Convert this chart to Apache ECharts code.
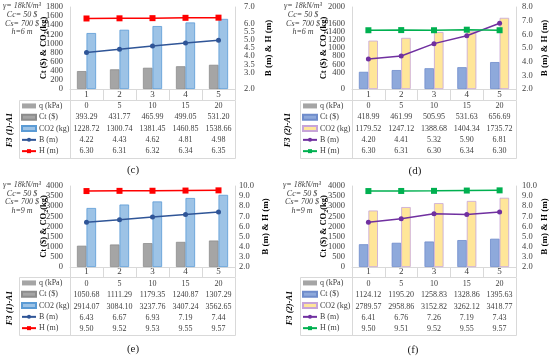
<!DOCTYPE html>
<html><head><meta charset="utf-8">
<script src="https://cdn.jsdelivr.net/npm/echarts@6/dist/echarts.min.js"></script>
<style>html,body{margin:0;padding:0;background:#fff}#c{width:550px;height:359px}</style>
</head><body><div id="c"></div>
<script>
// ---- data ----
const categories = ['1', '2', '3', '4', '5'];
const qValues = [0, 5, 10, 15, 20];

const ctC  = [393.29, 431.77, 465.99, 499.05, 531.20];
const co2C = [1228.72, 1300.74, 1381.45, 1460.85, 1538.66];
const bC   = [4.22, 4.43, 4.62, 4.81, 4.98];
const hC   = [6.30, 6.31, 6.32, 6.34, 6.35];

const ctD  = [418.99, 461.99, 505.95, 531.63, 656.69];
const co2D = [1179.52, 1247.12, 1388.68, 1404.34, 1735.72];
const bD   = [4.20, 4.41, 5.32, 5.90, 6.81];
const hD   = [6.30, 6.31, 6.30, 6.34, 6.30];

const ctE  = [1050.68, 1111.29, 1179.35, 1240.87, 1307.29];
const co2E = [2914.07, 3084.10, 3237.76, 3407.24, 3562.65];
const bE   = [6.43, 6.67, 6.93, 7.19, 7.44];
const hE   = [9.50, 9.52, 9.53, 9.55, 9.57];

const ctF  = [1124.12, 1195.20, 1258.83, 1328.86, 1395.63];
const co2F = [2789.57, 2958.86, 3152.82, 3262.12, 3418.77];
const bF   = [6.41, 6.76, 7.26, 7.19, 7.43];
const hF   = [9.50, 9.51, 9.52, 9.55, 9.57];

const seriesNames = ['q (kPa)', 'Ct ($)', 'CO2 (kg)', 'B (m)', 'H (m)'];
const notesH6 = ['γ= 18kN/m³', 'Cc= 50 $', 'Cs= 700 $', 'h=6 m'];
const notesH9 = ['γ= 18kN/m³', 'Cc= 50 $', 'Cs= 700 $', 'h=9 m'];

// ---- styles ----
const FONT = "'Liberation Serif', 'Times New Roman', serif";
const GRID_LINE = '#d9d9d9';
const themes = {
  blue:   { q: '#A5A5A5', ct: '#A5A5A5', ctB: '#8C8C8C', co2: '#9DC3E6', co2B: '#5B9BD5', b: '#2F5597', h: '#FF0000' },
  yellow: { q: '#A5A5A5', ct: '#8EA9DB', ctB: '#6F8CCB', co2: '#FFE699', co2B: '#C7A4D8', b: '#7030A0', h: '#00B050' }
};

const panels = [
  { key: 'c', ct: ctC, co2: co2C, b: bC, h: hC, theme: 'blue', notes: notesH6,
    lMax: 1800, lInt: 200, rMax: 7, rInt: 0.5,
    gl: 70, gw: 165, gt: 7, gh: 82, tl: 19, tt: 100, tb: 158, labMargin: 0, firstLH: 11.3,
    rLabMargin: 9, rNameGap: 29, lNameGap: 21,
    tag: 'F3 (1)-A1', tagX: 10, tagY: 130, cap: '(c)', capX: 133, capY: 170, noteX: 22, noteY: 1.7 },
  { key: 'd', ct: ctD, co2: co2D, b: bD, h: hD, theme: 'yellow', notes: notesH6,
    lMax: 2000, lInt: 200, rMax: 8, rInt: 1,
    gl: 352, gw: 164, gt: 7, gh: 82, tl: 300, tt: 100, tb: 158, labMargin: 0, firstLH: 11.3,
    rLabMargin: 6, rNameGap: 24, lNameGap: 23,
    tag: 'F3 (2)-A1', tagX: 288, tagY: 130, cap: '(d)', capX: 415, capY: 171, noteX: 303, noteY: 1.7 },
  { key: 'e', ct: ctE, co2: co2E, b: bE, h: hE, theme: 'blue', notes: notesH9,
    lMax: 4000, lInt: 500, rMax: 10, rInt: 1,
    gl: 70, gw: 165, gt: 186, gh: 81, tl: 19, tt: 277, tb: 335, labMargin: -3, firstLH: 14.3,
    rLabMargin: 4, rNameGap: 26, lNameGap: 21,
    tag: 'F3 (1)-A1', tagX: 10, tagY: 308, cap: '(e)', capX: 133, capY: 349, noteX: 22, noteY: 180.6 },
  { key: 'f', ct: ctF, co2: co2F, b: bF, h: hF, theme: 'yellow', notes: notesH9,
    lMax: 4000, lInt: 500, rMax: 10, rInt: 1,
    gl: 352, gw: 164, gt: 186, gh: 81, tl: 300, tt: 277, tb: 335, labMargin: -3, firstLH: 14.3,
    rLabMargin: 6, rNameGap: 24, lNameGap: 23,
    tag: 'F3 (2)-A1', tagX: 290, tagY: 308, cap: '(f)', capX: 413, capY: 350, noteX: 302, noteY: 180.6 }
];

const option = { animation: false, backgroundColor: '#fff', grid: [], xAxis: [], yAxis: [], series: [], legend: [], graphic: [] };

panels.forEach((p, i) => {
  const t = themes[p.theme];
  const nm = s => s + '|' + p.key;
  option.grid.push({ left: p.gl, top: p.gt, width: p.gw, height: p.gh });

  const rows = (idx) => [qValues[idx], p.ct[idx].toFixed(2), p.co2[idx].toFixed(2), p.b[idx].toFixed(2), p.h[idx].toFixed(2)];
  option.xAxis.push({
    type: 'category', gridIndex: i, data: categories,
    axisLine: { lineStyle: { color: GRID_LINE } },
    axisTick: { show: true, length: p.tt - (p.gt + p.gh), lineStyle: { color: GRID_LINE } },
    axisLabel: {
      interval: 0, margin: p.labMargin, fontFamily: FONT, hideOverlap: false,
      formatter: (v, idx) => '{n|' + v + '}\n' + rows(idx).map(r => '{v|' + r + '}').join('\n'),
      rich: {
        n: { fontFamily: FONT, fontSize: 9, lineHeight: p.firstLH, color: '#404040' },
        v: { fontFamily: FONT, fontSize: 8, lineHeight: 11.3, color: '#404040' }
      }
    }
  });
  option.xAxis.push({ type: 'category', gridIndex: i, data: categories, show: false });

  option.yAxis.push({
    type: 'value', gridIndex: i, min: 0, max: p.lMax, interval: p.lInt,
    axisLine: { show: true, lineStyle: { color: GRID_LINE } }, axisTick: { show: false }, splitLine: { show: false },
    axisLabel: { fontFamily: FONT, fontSize: 8.5, color: '#404040', margin: 7, showMinLabel: true, showMaxLabel: true,
      hideOverlap: false, formatter: v => String(v) },
    name: 'Ct ($) & CO{s|2}(kg)', nameLocation: 'middle', nameGap: p.lNameGap, nameRotate: 90, nameMoveOverlap: false,
    nameTextStyle: { fontFamily: FONT, fontSize: 8.5, fontWeight: 'bold', color: '#000',
      rich: { s: { fontFamily: FONT, fontSize: 6, fontWeight: 'bold', verticalAlign: 'bottom', padding: [4, 0, 0, 0] } } }
  });
  option.yAxis.push({
    type: 'value', gridIndex: i, position: 'right', min: 2, max: p.rMax, interval: p.rInt,
    axisLine: { show: true, lineStyle: { color: GRID_LINE } }, axisTick: { show: false }, splitLine: { show: false },
    axisLabel: { fontFamily: FONT, fontSize: 8.5, color: '#404040', margin: p.rLabMargin, showMinLabel: true, showMaxLabel: true,
      hideOverlap: false, formatter: v => v.toFixed(1) },
    name: 'B (m) & H (m)', nameLocation: 'middle', nameGap: p.rNameGap, nameRotate: 90, nameMoveOverlap: false,
    nameTextStyle: { fontFamily: FONT, fontSize: 9, fontWeight: 'bold', color: '#000' }
  });

  const xMain = 2 * i, xHid = 2 * i + 1, yL = 2 * i, yR = 2 * i + 1;
  option.series.push(
    { type: 'bar', name: nm(seriesNames[0]), xAxisIndex: xHid, yAxisIndex: yL, data: qValues, barWidth: '12%', z: 1,
      itemStyle: { color: t.q } },
    { type: 'bar', name: nm(seriesNames[1]), xAxisIndex: xMain, yAxisIndex: yL, data: p.ct, barWidth: '29%', barGap: '0%',
      itemStyle: { color: t.ct, borderColor: t.ctB, borderWidth: 0.8 } },
    { type: 'bar', name: nm(seriesNames[2]), xAxisIndex: xMain, yAxisIndex: yL, data: p.co2, barWidth: '29%', barGap: '0%',
      itemStyle: { color: t.co2, borderColor: t.co2B, borderWidth: 0.8 } },
    { type: 'line', name: nm(seriesNames[3]), xAxisIndex: xMain, yAxisIndex: yR, data: p.b,
      symbol: 'circle', symbolSize: 5, lineStyle: { color: t.b, width: 1.5 }, itemStyle: { color: t.b } },
    { type: 'line', name: nm(seriesNames[4]), xAxisIndex: xMain, yAxisIndex: yR, data: p.h,
      symbol: 'rect', symbolSize: 6, lineStyle: { color: t.h, width: 1.5 }, itemStyle: { color: t.h } }
  );

  option.legend.push({
    orient: 'vertical', left: p.tl + 2, top: p.tt + 0.3, padding: 0, itemGap: 0,
    itemWidth: 14, itemHeight: 5, selectedMode: false,
    data: seriesNames.map((s, k) => k < 3 ? { name: nm(s), icon: 'rect' } : { name: nm(s) }),
    formatter: n => n.split('|')[0],
    textStyle: { fontFamily: FONT, fontSize: 8, lineHeight: 11.3, color: '#404040', padding: [0, 0, 0, -2] }
  });

  const gr = p.gl + p.gw;
  option.graphic.push(
    { type: 'rect', silent: true, shape: { x: p.tl + 0.5, y: p.tt + 0.5, width: gr - p.tl, height: p.tb - p.tt },
      style: { fill: 'none', stroke: GRID_LINE, lineWidth: 1 } },
    { type: 'line', silent: true, shape: { x1: p.gl + 0.5, y1: p.tt, x2: p.gl + 0.5, y2: p.tb },
      style: { stroke: GRID_LINE, lineWidth: 1 } },
    { type: 'text', silent: true, x: p.noteX, y: p.noteY,
      style: { text: p.notes.join('\n'), fontFamily: FONT, fontSize: 8, fontStyle: 'italic', lineHeight: 8.7,
        fill: '#404040', textAlign: 'center', textVerticalAlign: 'top' } },
    { type: 'text', silent: true, x: p.tagX, y: p.tagY, rotation: Math.PI / 2,
      style: { text: p.tag, fontFamily: FONT, fontSize: 8.5, fontStyle: 'italic', fontWeight: 'bold',
        fill: '#000', textAlign: 'center', textVerticalAlign: 'middle' } },
    { type: 'text', silent: true, x: p.capX, y: p.capY,
      style: { text: p.cap, fontFamily: FONT, fontSize: 11, fill: '#222', textAlign: 'center', textVerticalAlign: 'middle' } }
  );
});

const chart = echarts.init(document.getElementById('c'), null, { renderer: 'canvas' });
chart.setOption(option);
</script>
</body></html>
